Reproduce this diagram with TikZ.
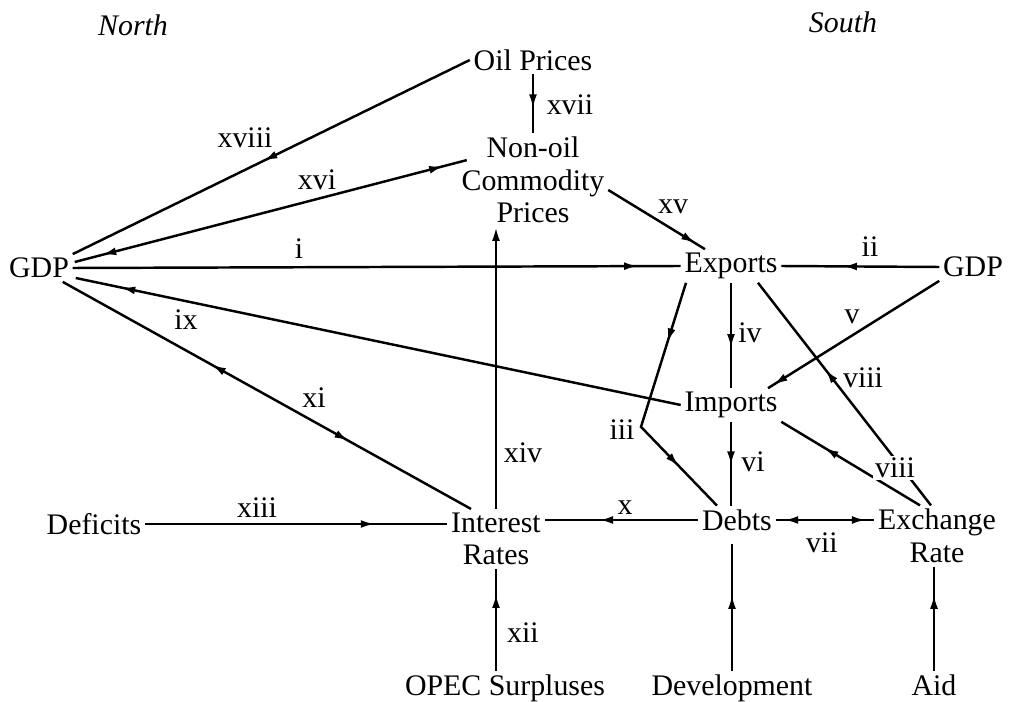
\documentclass[tikz,border=0pt]{standalone}
\usepackage{fontspec}
\setmainfont{Liberation Serif}
\usetikzlibrary{arrows.meta, calc, decorations.markings}
\newcommand{\diagfont}{\fontsize{17}{18.5}\selectfont}

\begin{document}
\begin{tikzpicture}[
    x=0.02cm, y=-0.02cm,
    var/.style={inner sep=2pt, align=center, font=\diagfont},
    lbl/.style={inner sep=1pt, font=\diagfont},
    hdr/.style={inner sep=2pt, font=\diagfont\itshape},
    link/.style={line width=1.4pt},
    >={Latex[length=8pt, width=4.5pt]},
    fwd/.style={postaction={decorate, decoration={markings, mark=at position #1 with {\arrow{>}}}}},
    bwd/.style={postaction={decorate, decoration={markings, mark=at position #1 with {\arrowreversed{>}}}}}
]
\useasboundingbox (0,0) rectangle (1012,702);

% Headings
\node[hdr] (north) at (133,25) {North};
\node[hdr] (south) at (843,22) {South};

% North side
\node[var] (oil) at (533,60) {Oil Prices};
\node[var] (nonoil) at (533,180) {Non-oil\\Commodity\\Prices};
\node[var] (gdpN) at (39,268) {GDP};
\node[var] (deficits) at (94,524) {Deficits};
\node[var] (interest) at (496,539) {Interest\\Rates};
\node[var] (opec) at (505,688) {OPEC Surpluses};

% South side
\node[var] (exports) at (731,266) {Exports};
\node[var] (gdpS) at (973,267) {GDP};
\node[var] (imports) at (731,405) {Imports};
\node[var] (debts) at (737,520) {Debts};
\node[var] (exch) at (937,536) {Exchange\\Rate};
\node[var] (devel) at (732,688) {Development};
\node[var] (aid) at (934,685) {Aid};

% Commodity links
\draw[link, fwd=0.52] (oil.west) -- (gdpN.north east);
\draw[link, fwd=0.58] (oil.south) -- (nonoil.north);
\draw[link, bwd=0.07, fwd=0.94] ([shift={(2,-6)}]gdpN.east) -- ([shift={(9,27)}]nonoil.north west);
\draw[link, fwd=0.9] ([shift={(0,10)}]nonoil.east) -- ([shift={(-26,0)}]exports.north);

% Trade links
\draw[link, fwd=0.93] (gdpN.east) -- (exports.west);
\draw[link, fwd=0.61] (gdpS.west) -- (exports.east);
\draw[link, fwd=0.97] (gdpS.south west) -- ([shift={(37,0)}]imports.north);
\draw[link, fwd=0.62] (exports.south) -- (imports.north);
\draw[link, fwd=0.24, fwd=0.79] ([shift={(-45,0)}]exports.south) -- ++(-45,144) -- ([shift={(-20,0)}]debts.north);
\draw[link, fwd=0.61] ([shift={(-6,0)}]exch.north) -- ([shift={(27,0)}]exports.south);
\draw[link, fwd=0.69] ([shift={(-17,0)}]exch.north) -- (imports.south east);
\draw[link, fwd=0.925] (imports.west) -- ([shift={(3,10)}]gdpN.east);

% Financial links
\draw[link, fwd=0.52] (imports.south) -- (imports.south |- debts.north);
\draw[link, bwd=0.086, fwd=0.915] (debts.east) -- (debts.east -| exch.west);
\draw[link, fwd=0.646] (debts.west) -- (debts.west -| interest.east);
\draw[link, fwd=0.76] (deficits.east) -- (deficits.east -| interest.west);
\draw[link, bwd=0.365, fwd=0.70] ([shift={(-10,0)}]gdpN.south east) -- ([shift={(-25,0)}]interest.north);
\draw[link, ->] (interest.north) -- (interest.north |- nonoil.south);
\draw[link, fwd=0.755] (opec.north -| interest.south) -- (interest.south);
\draw[link, fwd=0.6] (devel.north) -- ($(devel.north |- debts.south)+(0,10)$);
\draw[link, fwd=0.73] (aid.north) -- (aid.north |- exch.south);

% Link labels
\node[lbl] (li) at (299,249) {i};
\node[lbl] (lii) at (870,247) {ii};
\node[lbl] (liii) at (622,430) {iii};
\node[lbl] (liv) at (750,333) {iv};
\node[lbl] (lv) at (852,317) {v};
\node[lbl] (lvi) at (753,462) {vi};
\node[lbl] (lvii) at (822,543) {vii};
\node[lbl] (lviiia) at (863,378) {viii};
\node[lbl, fill=white] (lviiib) at (895,468) {viii};
\node[lbl] (lix) at (186,320) {ix};
\node[lbl] (lx) at (625,508) {x};
\node[lbl] (lxi) at (314,398) {xi};
\node[lbl] (lxii) at (523,633) {xii};
\node[lbl] (lxiii) at (257,508) {xiii};
\node[lbl] (lxiv) at (523,453) {xiv};
\node[lbl] (lxv) at (673,207) {xv};
\node[lbl] (lxvi) at (317,180) {xvi};
\node[lbl] (lxvii) at (570,105) {xvii};
\node[lbl] (lxviii) at (245,138) {xviii};

\end{tikzpicture}
\end{document}
